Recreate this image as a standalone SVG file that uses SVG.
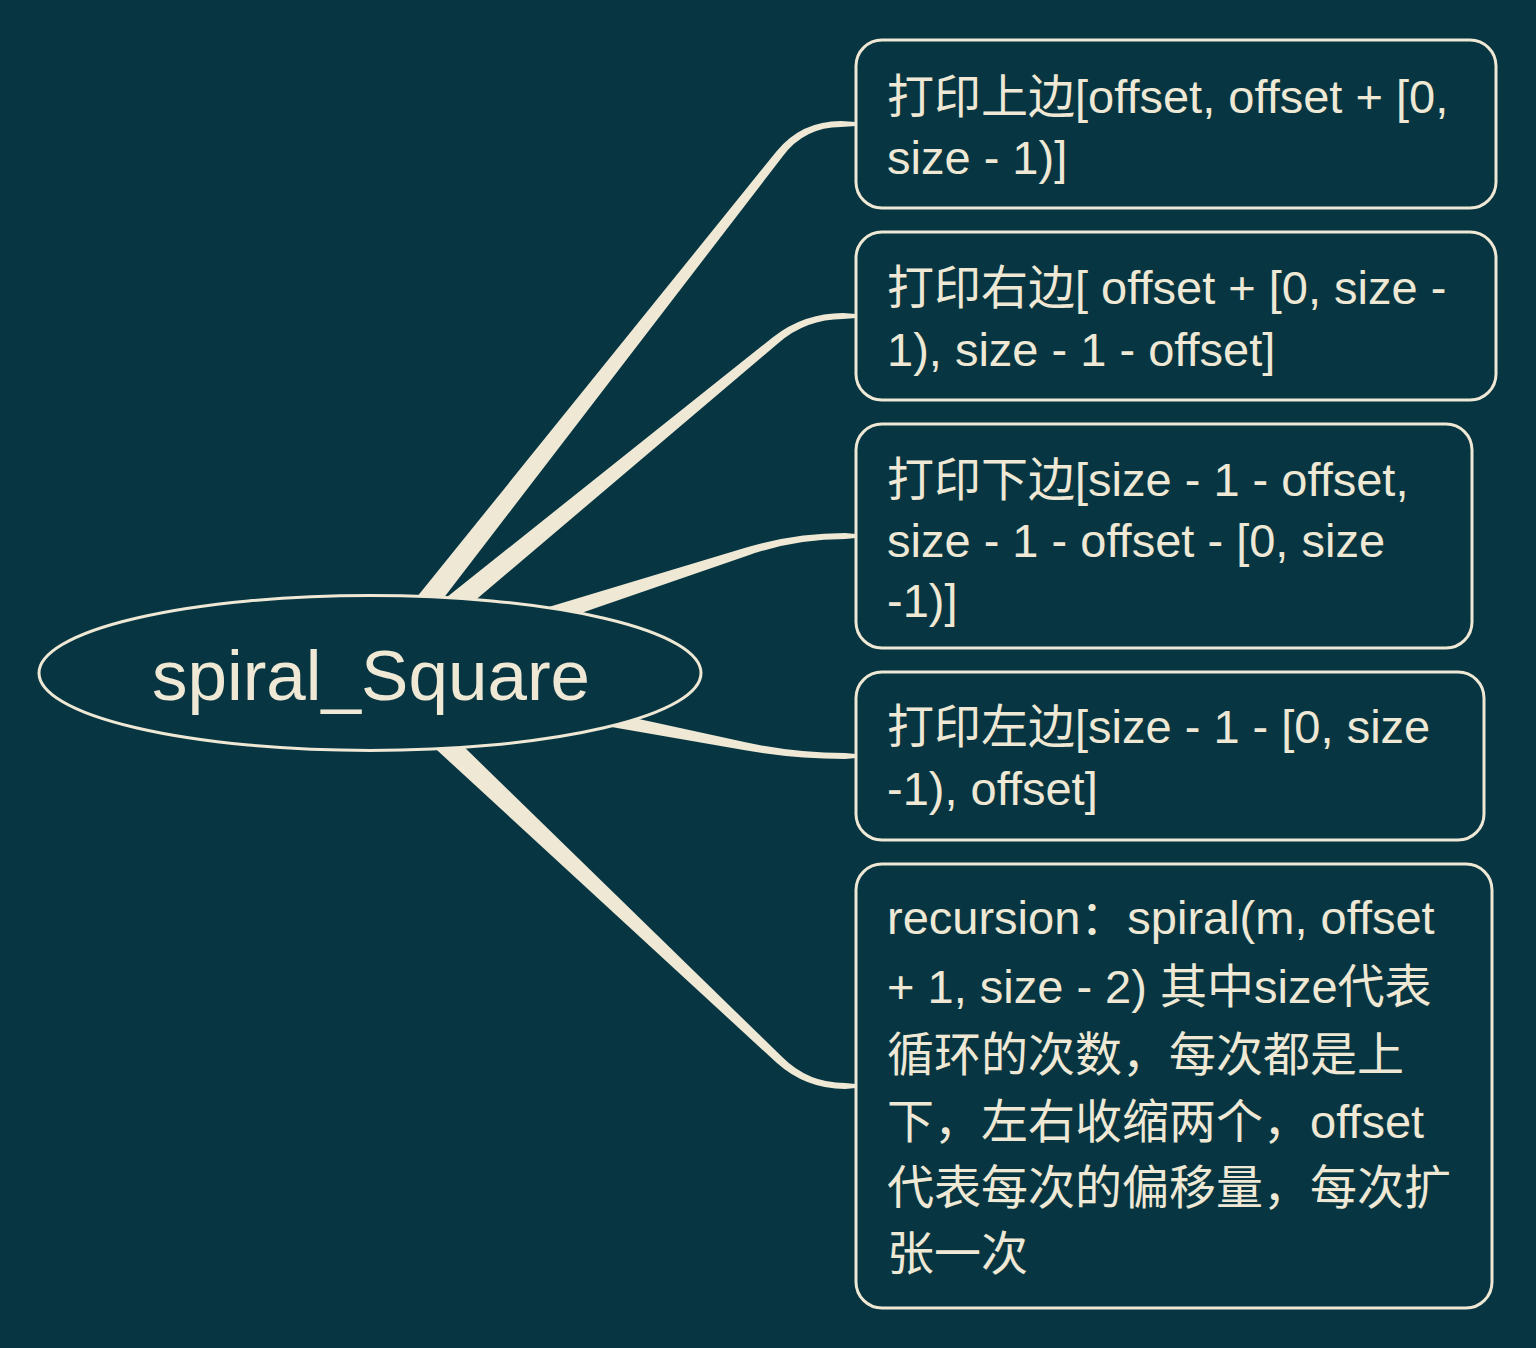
<svg xmlns="http://www.w3.org/2000/svg" width="1536" height="1348" viewBox="0 0 1536 1348">
<style>
.bg{fill:#073642}
.edge{fill:#eee8d5;stroke:none}
.node{fill:#073642;stroke:#eee8d5;stroke-width:3}
.t{fill:#eee8d5;font-family:"Liberation Sans","Noto Sans CJK SC",sans-serif;font-size:47px}
.root{fill:#eee8d5;font-family:"Liberation Sans","Noto Sans CJK SC",sans-serif;font-size:71px}
</style>
<rect class="bg" x="0" y="0" width="1536" height="1348"/>
<g id="connectors">
<path class="edge" d="M361.6,665.6 L776.4,151.4 Q801.5,121 841,121 L856,122 L856,126 L841,127 Q804.5,127 782.6,156.4 L380.4,680.4 Z"/>
<path class="edge" d="M363.4,663.7 L773.2,337.0 Q803.9,313 843,313 L856,314 L856,318 L843,319 Q806.1,319 778.2,343.2 L378.6,682.3 Z"/>
<path class="edge" d="M367.3,661.6 L746.2,547.6 Q794.5,533 845,533 L856,534 L856,538 L845,539 Q795.5,539 748.6,555.2 L374.7,684.4 Z"/>
<path class="edge" d="M373.3,661.2 L746.7,742.5 Q795.3,753 845,753 L856,754 L856,758 L845,759 Q794.7,759 745.1,750.3 L368.7,684.8 Z"/>
<path class="edge" d="M379.3,664.3 L782.2,1057.0 Q808.2,1083 845,1083 L856,1084 L856,1088 L845,1089 Q805.8,1089 776.6,1062.8 L362.7,681.7 Z"/>
</g>
<g id="root">
<ellipse class="node" cx="370" cy="673" rx="331" ry="77.5"/>
<text class="root" x="371" y="700" text-anchor="middle">spiral_Square</text>
</g>
<g id="node1">
<rect class="node" x="856" y="40" width="640" height="168" rx="26"/>
<text class="t" x="887" y="113">打印上边[offset, offset + [0,</text>
<text class="t" x="887" y="174">size - 1)]</text>
</g>
<g id="node2">
<rect class="node" x="856" y="232" width="640" height="168" rx="26"/>
<text class="t" x="887" y="304">打印右边[ offset + [0, size -</text>
<text class="t" x="887" y="366">1), size - 1 - offset]</text>
</g>
<g id="node3">
<rect class="node" x="856" y="424" width="616" height="224" rx="26"/>
<text class="t" x="887" y="496">打印下边[size - 1 - offset,</text>
<text class="t" x="887" y="557">size - 1 - offset - [0, size</text>
<text class="t" x="887" y="617">-1)]</text>
</g>
<g id="node4">
<rect class="node" x="856" y="672" width="628" height="168" rx="26"/>
<text class="t" x="887" y="743">打印左边[size - 1 - [0, size</text>
<text class="t" x="887" y="805">-1), offset]</text>
</g>
<g id="node5">
<rect class="node" x="856" y="864" width="636" height="444" rx="26"/>
<text class="t" x="887" y="934">recursion：spiral(m, offset</text>
<text class="t" x="887" y="1003">+ 1, size - 2) 其中size代表</text>
<text class="t" x="887" y="1071">循环的次数，每次都是上</text>
<text class="t" x="887" y="1138">下，左右收缩两个，offset</text>
<text class="t" x="887" y="1204">代表每次的偏移量，每次扩</text>
<text class="t" x="887" y="1270">张一次</text>
</g>
</svg>
